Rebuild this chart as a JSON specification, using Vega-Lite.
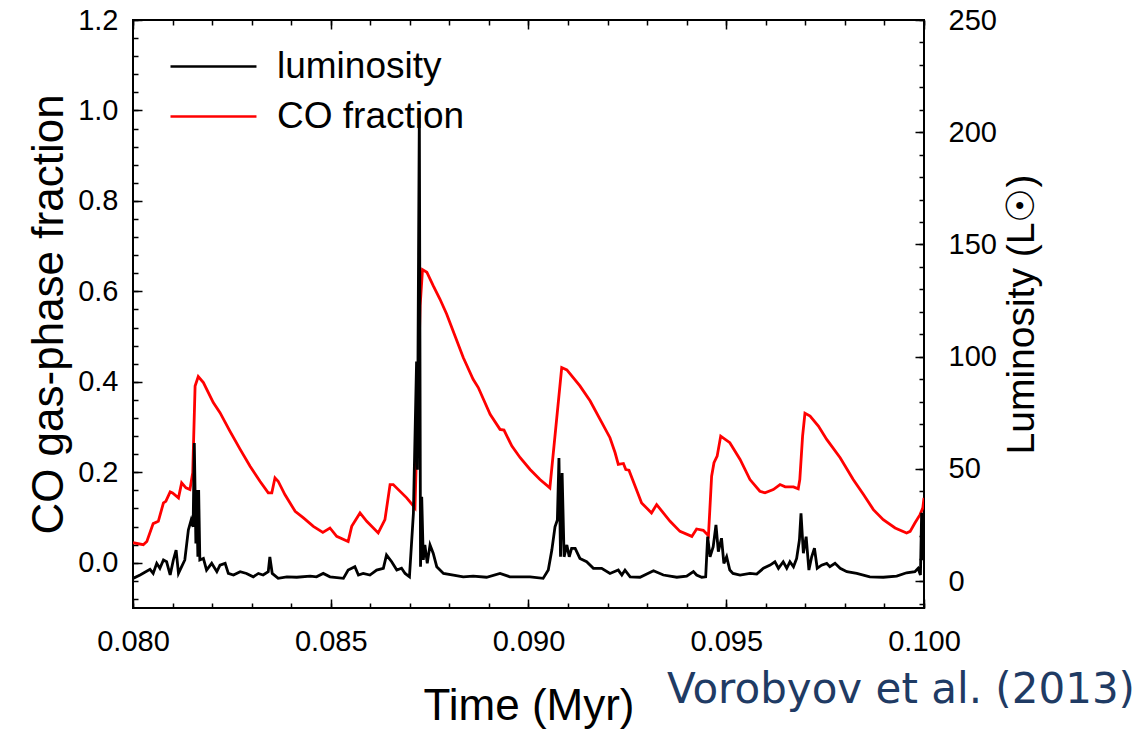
{
  "$schema": "https://vega.github.io/schema/vega-lite/v6.json",
  "width": 791,
  "height": 588,
  "autosize": {"type": "none"},
  "padding": {"left": 133, "top": 20, "right": 224, "bottom": 123},
  "background": "white",
  "title": {"text": "Vorobyov et al. (2013)", "orient": "bottom", "anchor": "end", "frame": "group", "dx": 211, "offset": -58, "font": "DejaVu Sans", "fontSize": 42, "fontWeight": "normal", "color": "#1f3b64"},
  "config": {
    "view": {"stroke": "black", "strokeWidth": 2},
    "axis": {"domain": false, "grid": false, "tickColor": "black", "tickWidth": 1.5, "labelFont": "Liberation Sans", "labelColor": "black", "labelFontSize": 29, "titleFont": "Liberation Sans", "titleFontWeight": "normal", "titleColor": "black", "titleFontSize": 40, "labelFlush": false, "labelOverlap": false}
  },
  "datasets": {
    "co": [
      {"t":0.08000,"f":0.0443},{"t":0.08026,"f":0.0399},{"t":0.08035,"f":0.0472},{"t":0.08051,"f":0.0865},{"t":0.08064,"f":0.0916},{"t":0.08077,"f":0.1324},{"t":0.08083,"f":0.1359},{"t":0.08094,"f":0.1568},{"t":0.08100,"f":0.1545},{"t":0.08115,"f":0.1435},{"t":0.08123,"f":0.1767},{"t":0.08134,"f":0.1656},{"t":0.08144,"f":0.1619},{"t":0.08151,"f":0.1989},{"t":0.08157,"f":0.3909},{"t":0.08165,"f":0.4118},{"t":0.08178,"f":0.3984},{"t":0.08203,"f":0.3541},{"t":0.08220,"f":0.3319},{"t":0.08245,"f":0.2911},{"t":0.08271,"f":0.2506},{"t":0.08296,"f":0.2135},{"t":0.08321,"f":0.1803},{"t":0.08342,"f":0.1545},{"t":0.08351,"f":0.1545},{"t":0.08359,"f":0.1878},{"t":0.08367,"f":0.1803},{"t":0.08384,"f":0.1508},{"t":0.08410,"f":0.1137},{"t":0.08431,"f":0.0991},{"t":0.08456,"f":0.0805},{"t":0.08480,"f":0.0672},{"t":0.08498,"f":0.0769},{"t":0.08515,"f":0.0583},{"t":0.08544,"f":0.0472},{"t":0.08553,"f":0.0805},{"t":0.08574,"f":0.1102},{"t":0.08591,"f":0.0916},{"t":0.08620,"f":0.0659},{"t":0.08637,"f":0.0953},{"t":0.08650,"f":0.1729},{"t":0.08658,"f":0.1729},{"t":0.08692,"f":0.1435},{"t":0.08713,"f":0.1213},{"t":0.08719,"f":0.3098},{"t":0.08726,"f":0.5683},{"t":0.08732,"f":0.6481},{"t":0.08743,"f":0.6424},{"t":0.08759,"f":0.6126},{"t":0.08776,"f":0.5831},{"t":0.08793,"f":0.5499},{"t":0.08814,"f":0.5018},{"t":0.08835,"f":0.4539},{"t":0.08860,"f":0.4058},{"t":0.08873,"f":0.3874},{"t":0.08903,"f":0.3282},{"t":0.08928,"f":0.2949},{"t":0.08938,"f":0.2933},{"t":0.08958,"f":0.2579},{"t":0.08979,"f":0.2322},{"t":0.09004,"f":0.2062},{"t":0.09029,"f":0.1840},{"t":0.09054,"f":0.1656},{"t":0.09084,"f":0.4317},{"t":0.09097,"f":0.4264},{"t":0.09130,"f":0.3909},{"t":0.09156,"f":0.3576},{"t":0.09181,"f":0.3171},{"t":0.09206,"f":0.2765},{"t":0.09219,"f":0.2432},{"t":0.09227,"f":0.2173},{"t":0.09240,"f":0.2195},{"t":0.09246,"f":0.2062},{"t":0.09254,"f":0.2047},{"t":0.09286,"f":0.1324},{"t":0.09311,"f":0.1102},{"t":0.09324,"f":0.1286},{"t":0.09358,"f":0.0916},{"t":0.09383,"f":0.0694},{"t":0.09413,"f":0.0583},{"t":0.09425,"f":0.0747},{"t":0.09442,"f":0.0716},{"t":0.09455,"f":0.0599},{"t":0.09463,"f":0.1914},{"t":0.09469,"f":0.2211},{"t":0.09477,"f":0.2357},{"t":0.09486,"f":0.2800},{"t":0.09509,"f":0.2654},{"t":0.09535,"f":0.2284},{"t":0.09560,"f":0.1840},{"t":0.09585,"f":0.1581},{"t":0.09598,"f":0.1545},{"t":0.09619,"f":0.1619},{"t":0.09636,"f":0.1729},{"t":0.09649,"f":0.1678},{"t":0.09670,"f":0.1678},{"t":0.09682,"f":0.1634},{"t":0.09686,"f":0.1840},{"t":0.09693,"f":0.2800},{"t":0.09699,"f":0.3304},{"t":0.09712,"f":0.3244},{"t":0.09733,"f":0.3022},{"t":0.09754,"f":0.2727},{"t":0.09788,"f":0.2322},{"t":0.09821,"f":0.1840},{"t":0.09847,"f":0.1508},{"t":0.09872,"f":0.1175},{"t":0.09897,"f":0.0953},{"t":0.09927,"f":0.0769},{"t":0.09956,"f":0.0659},{"t":0.09965,"f":0.0694},{"t":0.09977,"f":0.0880},{"t":0.09990,"f":0.1064},{"t":0.09997,"f":0.1213},{"t":0.10000,"f":0.1435}
    ],
    "lum": [
      {"t":0.08000,"L":1.2},{"t":0.08018,"L":2.7},{"t":0.08043,"L":5.2},{"t":0.08051,"L":3.4},{"t":0.08060,"L":7.9},{"t":0.08068,"L":5.7},{"t":0.08077,"L":9.4},{"t":0.08085,"L":8.6},{"t":0.08094,"L":2.7},{"t":0.08102,"L":9.4},{"t":0.08109,"L":13.8},{"t":0.08115,"L":3.4},{"t":0.08123,"L":6.4},{"t":0.08131,"L":9.4},{"t":0.08140,"L":22.8},{"t":0.08147,"L":27.2},{"t":0.08152,"L":24.2},{"t":0.08155,"L":61.5},{"t":0.08159,"L":16.8},{"t":0.08161,"L":40.6},{"t":0.08164,"L":10.8},{"t":0.08166,"L":40.6},{"t":0.08169,"L":9.4},{"t":0.08178,"L":10.1},{"t":0.08186,"L":4.9},{"t":0.08199,"L":7.9},{"t":0.08212,"L":4.2},{"t":0.08220,"L":7.1},{"t":0.08233,"L":7.9},{"t":0.08241,"L":3.4},{"t":0.08254,"L":2.7},{"t":0.08271,"L":4.2},{"t":0.08287,"L":3.4},{"t":0.08304,"L":1.9},{"t":0.08317,"L":3.4},{"t":0.08329,"L":2.7},{"t":0.08342,"L":4.2},{"t":0.08346,"L":10.8},{"t":0.08352,"L":3.4},{"t":0.08367,"L":1.2},{"t":0.08389,"L":1.9},{"t":0.08414,"L":1.7},{"t":0.08448,"L":2.2},{"t":0.08464,"L":1.9},{"t":0.08481,"L":3.4},{"t":0.08498,"L":1.9},{"t":0.08532,"L":1.2},{"t":0.08544,"L":4.9},{"t":0.08561,"L":6.4},{"t":0.08570,"L":2.7},{"t":0.08582,"L":3.4},{"t":0.08599,"L":2.7},{"t":0.08616,"L":4.9},{"t":0.08633,"L":5.7},{"t":0.08641,"L":11.6},{"t":0.08654,"L":8.6},{"t":0.08667,"L":4.9},{"t":0.08679,"L":5.7},{"t":0.08688,"L":3.4},{"t":0.08699,"L":1.9},{"t":0.08709,"L":30.2},{"t":0.08717,"L":97.8},{"t":0.08719,"L":49.6},{"t":0.08724,"L":209.4},{"t":0.08727,"L":6.4},{"t":0.08730,"L":37.6},{"t":0.08734,"L":9.4},{"t":0.08738,"L":16.1},{"t":0.08744,"L":7.9},{"t":0.08751,"L":16.1},{"t":0.08759,"L":12.4},{"t":0.08768,"L":6.4},{"t":0.08785,"L":3.4},{"t":0.08810,"L":2.7},{"t":0.08835,"L":1.9},{"t":0.08860,"L":2.2},{"t":0.08894,"L":1.7},{"t":0.08928,"L":3.4},{"t":0.08953,"L":1.9},{"t":0.09004,"L":1.9},{"t":0.09037,"L":1.2},{"t":0.09050,"L":4.9},{"t":0.09059,"L":13.8},{"t":0.09067,"L":24.2},{"t":0.09073,"L":27.2},{"t":0.09077,"L":54.8},{"t":0.09081,"L":10.8},{"t":0.09085,"L":48.1},{"t":0.09090,"L":10.8},{"t":0.09097,"L":16.1},{"t":0.09103,"L":10.8},{"t":0.09109,"L":14.6},{"t":0.09118,"L":14.6},{"t":0.09130,"L":10.1},{"t":0.09147,"L":8.6},{"t":0.09164,"L":5.7},{"t":0.09185,"L":5.7},{"t":0.09206,"L":3.4},{"t":0.09227,"L":4.9},{"t":0.09236,"L":2.7},{"t":0.09244,"L":4.9},{"t":0.09257,"L":1.9},{"t":0.09282,"L":1.7},{"t":0.09316,"L":4.6},{"t":0.09341,"L":2.7},{"t":0.09375,"L":1.7},{"t":0.09400,"L":2.2},{"t":0.09417,"L":4.2},{"t":0.09425,"L":2.7},{"t":0.09438,"L":1.7},{"t":0.09448,"L":1.9},{"t":0.09453,"L":19.8},{"t":0.09459,"L":10.8},{"t":0.09467,"L":15.3},{"t":0.09474,"L":25.0},{"t":0.09480,"L":13.1},{"t":0.09488,"L":19.1},{"t":0.09494,"L":7.9},{"t":0.09501,"L":10.8},{"t":0.09509,"L":4.9},{"t":0.09517,"L":3.4},{"t":0.09535,"L":2.7},{"t":0.09560,"L":3.4},{"t":0.09577,"L":3.1},{"t":0.09594,"L":5.7},{"t":0.09611,"L":7.1},{"t":0.09623,"L":8.6},{"t":0.09632,"L":5.7},{"t":0.09644,"L":8.6},{"t":0.09653,"L":5.7},{"t":0.09661,"L":8.6},{"t":0.09670,"L":6.4},{"t":0.09678,"L":10.1},{"t":0.09685,"L":18.3},{"t":0.09689,"L":30.2},{"t":0.09695,"L":12.4},{"t":0.09702,"L":19.8},{"t":0.09709,"L":4.9},{"t":0.09716,"L":10.8},{"t":0.09723,"L":14.6},{"t":0.09730,"L":5.7},{"t":0.09741,"L":7.1},{"t":0.09754,"L":7.9},{"t":0.09762,"L":6.4},{"t":0.09775,"L":7.9},{"t":0.09788,"L":5.7},{"t":0.09805,"L":4.2},{"t":0.09830,"L":3.4},{"t":0.09863,"L":1.9},{"t":0.09897,"L":1.7},{"t":0.09931,"L":2.2},{"t":0.09956,"L":3.7},{"t":0.09977,"L":4.2},{"t":0.09985,"L":5.7},{"t":0.09991,"L":2.7},{"t":0.09994,"L":30.4},{"t":0.09996,"L":9.4},{"t":0.10000,"L":29.5}
    ]
  },
  "layer": [
    {
      "data": {"name": "co"},
      "mark": {"type": "line", "strokeWidth": 2.8, "clip": true},
      "encoding": {
        "x": {"field": "t", "type": "quantitative", "scale": {"domain": [0.08, 0.1], "nice": false, "zero": false},
              "axis": {"orient": "bottom", "values": [0.08, 0.085, 0.09, 0.095, 0.1], "format": ".3f", "title": "Time (Myr)", "tickSize": -9, "labelPadding": 28, "titlePadding": 28, "titleFontSize": 44}},
        "y": {"field": "f", "type": "quantitative", "scale": {"domain": [-0.1, 1.2], "nice": false, "zero": false},
              "axis": {"orient": "left", "values": [0, 0.2, 0.4, 0.6, 0.8, 1.0, 1.2], "format": ".1f", "title": "CO gas-phase fraction", "tickSize": -9, "labelPadding": 24, "titlePadding": 6, "titleFontSize": 44}},
        "color": {"datum": "CO fraction", "type": "nominal",
                  "scale": {"domain": ["luminosity", "CO fraction"], "range": ["#000000", "#ff0000"]},
                  "legend": {"orient": "none", "legendX": 19, "legendY": 28, "title": null, "symbolType": "M0,0H8", "symbolSize": 462, "symbolStrokeWidth": 2.5, "labelFontSize": 37, "labelFont": "Liberation Sans", "labelColor": "black", "labelOffset": 88, "labelLimit": 0, "rowPadding": 12, "padding": 0}}
      }
    },
    {
      "data": {"name": "lum"},
      "mark": {"type": "line", "strokeWidth": 2.8, "clip": true},
      "encoding": {
        "x": {"field": "t", "type": "quantitative", "scale": {"domain": [0.08, 0.1], "nice": false, "zero": false},
              "axis": {"orient": "top", "values": [0.08, 0.085, 0.09, 0.095, 0.1], "labels": false, "title": null, "tickSize": -9}},
        "y": {"field": "L", "type": "quantitative", "scale": {"domain": [-12, 250], "nice": false, "zero": false},
              "axis": {"orient": "right", "values": [0, 50, 100, 150, 200, 250], "title": "Luminosity (L☉)", "tickSize": -9, "labelPadding": 33, "titlePadding": 45, "titleAngle": 270, "titleFontSize": 39}},
        "color": {"datum": "luminosity", "type": "nominal"}
      }
    },
    {
      "data": {"name": "co"},
      "mark": {"type": "line", "strokeOpacity": 0},
      "encoding": {
        "x": {"field": "t", "type": "quantitative", "scale": {"domain": [0.08, 0.1], "nice": false, "zero": false},
              "axis": {"orient": "bottom", "values": [0.080,0.081,0.082,0.083,0.084,0.085,0.086,0.087,0.088,0.089,0.090,0.091,0.092,0.093,0.094,0.095,0.096,0.097,0.098,0.099,0.100], "labels": false, "title": null, "tickSize": -5}},
        "y": {"field": "f", "type": "quantitative", "scale": {"domain": [-0.1, 1.2], "nice": false, "zero": false},
              "axis": {"orient": "left", "values": [-0.08,-0.04,0,0.04,0.08,0.12,0.16,0.2,0.24,0.28,0.32,0.36,0.4,0.44,0.48,0.52,0.56,0.6,0.64,0.68,0.72,0.76,0.8,0.84,0.88,0.92,0.96,1.0,1.04,1.08,1.12,1.16,1.2], "labels": false, "title": null, "tickSize": -5}}
      }
    },
    {
      "data": {"name": "lum"},
      "mark": {"type": "line", "strokeOpacity": 0},
      "encoding": {
        "x": {"field": "t", "type": "quantitative", "scale": {"domain": [0.08, 0.1], "nice": false, "zero": false},
              "axis": {"orient": "top", "values": [0.080,0.081,0.082,0.083,0.084,0.085,0.086,0.087,0.088,0.089,0.090,0.091,0.092,0.093,0.094,0.095,0.096,0.097,0.098,0.099,0.100], "labels": false, "title": null, "tickSize": -5}},
        "y": {"field": "L", "type": "quantitative", "scale": {"domain": [-12, 250], "nice": false, "zero": false},
              "axis": {"orient": "right", "values": [-10,0,10,20,30,40,50,60,70,80,90,100,110,120,130,140,150,160,170,180,190,200,210,220,230,240,250], "labels": false, "title": null, "tickSize": -5}}
      }
    }
  ],
  "resolve": {"scale": {"y": "independent"}, "axis": {"x": "independent", "y": "independent"}}
}
